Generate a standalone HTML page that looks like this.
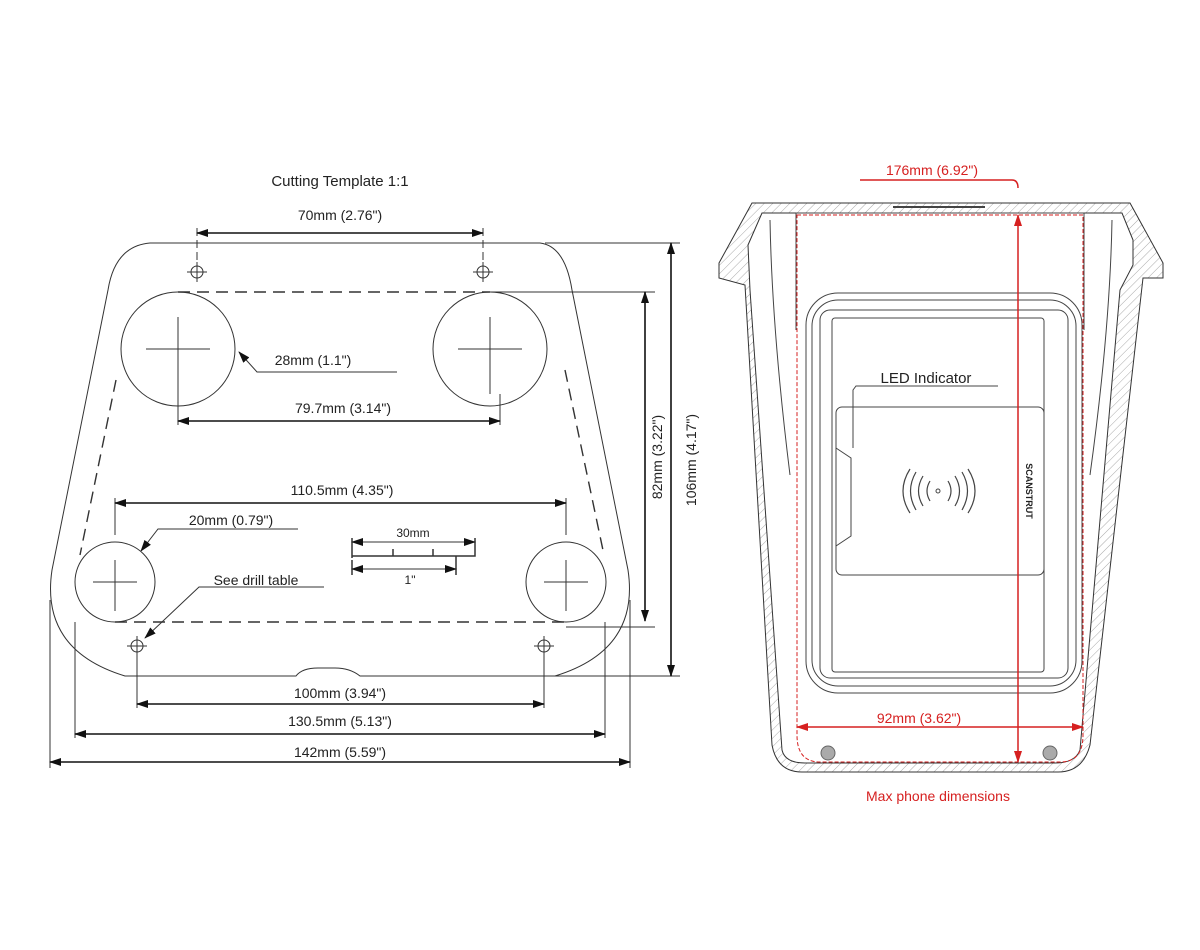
<!DOCTYPE html>
<html><head><meta charset="utf-8"><style>
html,body{margin:0;padding:0;background:#fff;}
svg{display:block;}
text{font-family:"Liberation Sans",Arial,sans-serif;fill:#222;}
</style></head><body>
<svg width="1200" height="950" viewBox="0 0 1200 950" xmlns="http://www.w3.org/2000/svg">
<defs>
<marker id="a" markerWidth="12" markerHeight="8" refX="11" refY="4" orient="auto-start-reverse" markerUnits="userSpaceOnUse"><path d="M0,0 L12,4 L0,8 z" fill="#111"/></marker>
<marker id="r" markerWidth="12" markerHeight="8" refX="11" refY="4" orient="auto-start-reverse" markerUnits="userSpaceOnUse"><path d="M0,0 L12,4 L0,8 z" fill="#d62020"/></marker>
<pattern id="h" width="6" height="6" patternUnits="userSpaceOnUse" patternTransform="rotate(45)"><line x1="0" y1="0" x2="0" y2="6" stroke="#aaa" stroke-width="1"/></pattern>
</defs>

<!-- LEFT: cutting template -->
<text x="340" y="186" font-size="15" text-anchor="middle">Cutting Template 1:1</text>
<g fill="none" stroke="#333" stroke-width="1">
<path d="M150,243 L540,243 Q565,246 572,290 L628,570 Q640,650 555,676 L360,676 Q350,668 335,668 L318,668 Q302,668 296,676 L125,676 Q40,650 52,570 L108,290 Q115,246 150,243 Z"/>
<ellipse cx="178" cy="349" rx="57" ry="57"/>
<ellipse cx="490" cy="349" rx="57" ry="57"/>
<ellipse cx="115" cy="582" rx="40" ry="40"/>
<ellipse cx="566" cy="582" rx="40" ry="40"/>
<g stroke-dasharray="12,7" stroke-width="1.4">
<line x1="178" y1="292" x2="490" y2="292"/>
<line x1="115" y1="622" x2="566" y2="622"/>
<line x1="116" y1="380" x2="80" y2="555"/>
<line x1="565" y1="370" x2="604" y2="555"/>
</g>
<!-- crosses -->
<path d="M146,349 H210 M178,317 V394 M458,349 H522 M490,317 V394 M93,582 H137 M115,560 V611 M544,582 H588 M566,560 V611"/>
<path d="M178,394 V425 M500,394 V425"/>
<!-- small holes -->
<circle cx="197" cy="272" r="6"/><path d="M187,272H207M197,262V282"/>
<circle cx="483" cy="272" r="6"/><path d="M473,272H493M483,262V282"/>
<circle cx="137" cy="646" r="6"/><path d="M127,646H147M137,636V656"/>
<circle cx="544" cy="646" r="6"/><path d="M534,646H554M544,636V656"/>
<!-- extension lines -->
<path d="M197,228 V262 M483,228 V262" stroke-dasharray="8,4"/>
<path d="M115,498 V535 M566,498 V535 M137,656 V708 M544,656 V708 M75,622 V738 M605,622 V738 M50,600 V768 M630,600 V768"/>
<path d="M490,292 H655 M566,627 H655 M545,243 H680 M555,676 H680"/>
</g>
<g stroke="#111" stroke-width="1.6" fill="none">
<line x1="197" y1="233" x2="483" y2="233" marker-start="url(#a)" marker-end="url(#a)"/>
<line x1="178" y1="421" x2="500" y2="421" marker-start="url(#a)" marker-end="url(#a)"/>
<line x1="115" y1="503" x2="566" y2="503" marker-start="url(#a)" marker-end="url(#a)"/>
<line x1="137" y1="704" x2="544" y2="704" marker-start="url(#a)" marker-end="url(#a)"/>
<line x1="75" y1="734" x2="605" y2="734" marker-start="url(#a)" marker-end="url(#a)"/>
<line x1="50" y1="762" x2="630" y2="762" marker-start="url(#a)" marker-end="url(#a)"/>
<line x1="645" y1="292" x2="645" y2="621" marker-start="url(#a)" marker-end="url(#a)"/>
<line x1="671" y1="243" x2="671" y2="676" marker-start="url(#a)" marker-end="url(#a)"/>
</g>
<g stroke="#333" stroke-width="1" fill="none">
<polyline points="397,372 257,372 239,352" marker-end="url(#a)"/>
<polyline points="298,529 158,529 141,551" marker-end="url(#a)"/>
<polyline points="324,587 199,587 145,638" marker-end="url(#a)"/>
<!-- scale bar -->
<path d="M352,538 V558 M352,556 H475 V538 M393,549 V556 M433,549 V556 M456,556 V575 M352,560 V575" stroke-width="1.5"/>
<line x1="352" y1="542" x2="475" y2="542" marker-start="url(#a)" marker-end="url(#a)"/>
<line x1="352" y1="569" x2="456" y2="569" marker-start="url(#a)" marker-end="url(#a)"/>
</g>
<g font-size="14" text-anchor="middle">
<text x="340" y="220">70mm (2.76")</text>
<text x="313" y="365">28mm (1.1")</text>
<text x="343" y="413">79.7mm (3.14")</text>
<text x="342" y="495">110.5mm (4.35")</text>
<text x="231" y="525">20mm (0.79")</text>
<text x="256" y="585">See drill table</text>
<text x="413" y="537" font-size="12">30mm</text>
<text x="410" y="584" font-size="12">1"</text>
<text x="340" y="698">100mm (3.94")</text>
<text x="340" y="726">130.5mm (5.13")</text>
<text x="340" y="757">142mm (5.59")</text>
<text transform="translate(662,457) rotate(-90)">82mm (3.22")</text>
<text transform="translate(696,460) rotate(-90)">106mm (4.17")</text>
</g>

<!-- RIGHT: device -->
<path d="M752,203 L1130,203 L1163,263 L1163,278 L1143,278 L1090,745 Q1083,772 1058,772 L802,772 Q777,772 772,745 L745,285 L719,278 L719,263 Z" fill="url(#h)" stroke="#333" stroke-width="1"/>
<path d="M762,213 L1122,213 L1133,240 L1133,265 L1120,290 L1080,750 Q1075,763 1055,763 L805,763 Q785,763 782,750 L750,290 L748,245 Z" fill="#fff" stroke="#333" stroke-width="1"/>
<g fill="none" stroke="#444" stroke-width="1">
<path d="M770,220 Q772,330 790,475 M1112,220 Q1110,330 1090,475"/>
<path d="M796,213 H1084 V330 M796,213 V330"/>
<path d="M893,207 H985" stroke-width="2"/>
<rect x="806" y="293" width="276" height="400" rx="32"/>
<rect x="812" y="300" width="264" height="386" rx="26"/>
<rect x="820" y="310" width="248" height="368" rx="10"/>
<rect x="832" y="318" width="212" height="354" rx="3"/>
<rect x="836" y="407" width="208" height="168" rx="6"/>
<path d="M836,448 L851,458 V536 L836,546"/>
<polyline points="998,386 856,386 853,390 853,448"/>
<circle cx="938" cy="491" r="2"/>
<path d="M930,481 Q924,491 930,501 M948,481 Q954,491 948,501 M923,476 Q914,491 923,506 M955,476 Q964,491 955,506 M916,472 Q905,491 916,510 M962,472 Q973,491 962,510 M910,469 Q896,491 910,513 M968,469 Q982,491 968,513" stroke-width="1.2"/>
</g>
<text x="926" y="383" font-size="15" text-anchor="middle">LED Indicator</text>
<text transform="translate(1026,491) rotate(90)" font-size="9" font-weight="bold" text-anchor="middle">SCANSTRUT</text>
<path d="M797,215 H1083 V735 Q1083,762 1060,762 H820 Q797,762 797,735 Z" fill="none" stroke="#d62020" stroke-width="1" stroke-dasharray="4,2"/>
<circle cx="828" cy="753" r="7" fill="#aaa" stroke="#666"/>
<circle cx="1050" cy="753" r="7" fill="#aaa" stroke="#666"/>
<g stroke="#d62020" stroke-width="1.5" fill="none">
<path d="M860,180 H1012 Q1018,180 1018,188"/>
<line x1="1018" y1="215" x2="1018" y2="762" marker-start="url(#r)" marker-end="url(#r)"/>
<line x1="797" y1="727" x2="1083" y2="727" marker-start="url(#r)" marker-end="url(#r)"/>
</g>
<g font-size="14" text-anchor="middle">
<text x="932" y="175" style="fill:#d62020">176mm (6.92")</text>
<text x="919" y="723" style="fill:#d62020">92mm (3.62")</text>
<text x="938" y="801" style="fill:#d62020">Max phone dimensions</text>
</g>
</svg>
</body></html>
